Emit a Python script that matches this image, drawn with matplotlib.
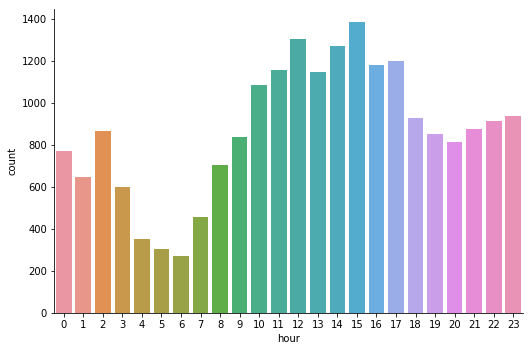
import matplotlib
matplotlib.use("Agg")
import matplotlib.pyplot as plt
import seaborn as sns

hours = list(range(24))
counts = [775, 651, 870, 603, 355, 307, 274, 460, 708, 842, 1090, 1161,
          1309, 1152, 1276, 1386, 1185, 1204, 932, 856, 818, 880, 918, 942]

# countplot-style colours: husl palette (lightness .7), desaturated
colors = [sns.desaturate(c, 0.75) for c in sns.husl_palette(len(hours), l=0.7)]

fig = plt.figure(figsize=(531 / 72, 349 / 72), dpi=72)
ax = fig.add_axes([54 / 531, 1 - 313.3 / 349, (523 - 54) / 531, (313.3 - 9) / 349])

ax.bar(hours, counts, width=0.8, color=colors)
ax.set_xlim(-0.5, 23.5)
ax.set_ylim(0, 1450)
ax.set_xticks(hours)
ax.set_xticklabels([str(h) for h in hours])
ax.set_yticks(range(0, 1401, 200))
ax.set_xlabel("hour")
ax.set_ylabel("count")
sns.despine(ax=ax)

fig.savefig("out.png", dpi=72)
